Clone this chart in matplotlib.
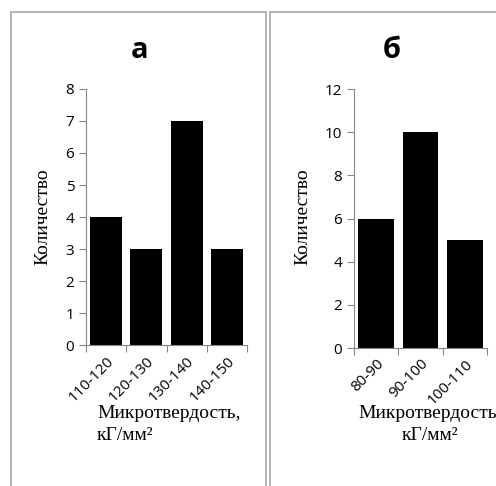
import matplotlib.pyplot as plt
from matplotlib.patches import Rectangle

# === Data === #
cats_a = ['110-120', '120-130', '130-140', '140-150']
counts_a = [4, 3, 7, 3]

cats_b = ['80-90', '90-100', '100-110']
counts_b = [6, 10, 5]

axis_grey = '#868686'
frame_grey = '#a6a6a6'
sans = ['Open Sans', 'DejaVu Sans']
serif = ['Liberation Serif', 'DejaVu Serif']

fig = plt.figure(figsize=(4.96, 4.86), dpi=100)

# Panel frames (figure coords)
W, H = 496.0, 486.0
fig.patches.append(Rectangle((11 / W, -0.05), (266 - 11) / W, 1.05 - 12 / H,
                             transform=fig.transFigure, fill=False,
                             edgecolor=frame_grey, linewidth=1.2))
fig.patches.append(Rectangle((270 / W, -0.05), 0.5, 1.05 - 12 / H,
                             transform=fig.transFigure, fill=False,
                             edgecolor=frame_grey, linewidth=1.2))


def draw_panel(rect, cats, counts, ymax, ystep, title, title_x, ylab_x, xlab_x, xlab_ha):
    ax = fig.add_axes(rect)
    x = range(len(cats))
    ax.bar(x, counts, width=0.8, color='black')
    ax.set_xlim(-0.5, len(cats) - 0.5)
    ax.set_ylim(0, ymax)
    ax.set_yticks(range(0, ymax + 1, ystep))
    # tick marks sit between categories, labels under the bars
    ax.set_xticks([i - 0.5 for i in range(len(cats) + 1)])
    ax.set_xticklabels([])
    ax.set_xticks(list(x), minor=True)
    ax.set_xticklabels(cats, minor=True, rotation=45, ha='right',
                       rotation_mode='anchor', fontsize=11, family=sans)
    ax.tick_params(axis='x', which='minor', length=0, pad=6)
    ax.tick_params(axis='x', which='major', length=5, color=axis_grey,
                   direction='out')
    ax.tick_params(axis='y', length=5, color=axis_grey, labelsize=11)
    for lab in ax.get_yticklabels():
        lab.set_family(sans)
    for side in ['top', 'right']:
        ax.spines[side].set_visible(False)
    for side in ['left', 'bottom']:
        ax.spines[side].set_color(axis_grey)
    fig.text(title_x / W, 1 - 50 / H, title, ha='center', va='center',
             fontsize=21, fontweight='bold', family=sans)
    fig.text(ylab_x / W, 1 - 217 / H, 'Количество', rotation=90,
             ha='center', va='center', fontsize=14, family=serif)
    fig.text(xlab_x / W, 1 - 413 / H, 'Микротвердость,', ha=xlab_ha,
             va='center', fontsize=14, family=serif)
    fig.text(xlab_x / W, 1 - 435 / H, 'кГ/мм²', ha=xlab_ha,
             va='center', fontsize=14, family=serif)
    return ax


draw_panel([86 / W, 1 - 345 / H, (247 - 86) / W, (345 - 89) / H],
           cats_a, counts_a, 8, 1, 'а', 140, 43, 97, 'left')
draw_panel([354 / W, 1 - 348 / H, (487 - 354) / W, (348 - 89) / H],
           cats_b, counts_b, 12, 2, 'б', 392, 303, 430, 'center')

fig.savefig('out.png', dpi=100)
